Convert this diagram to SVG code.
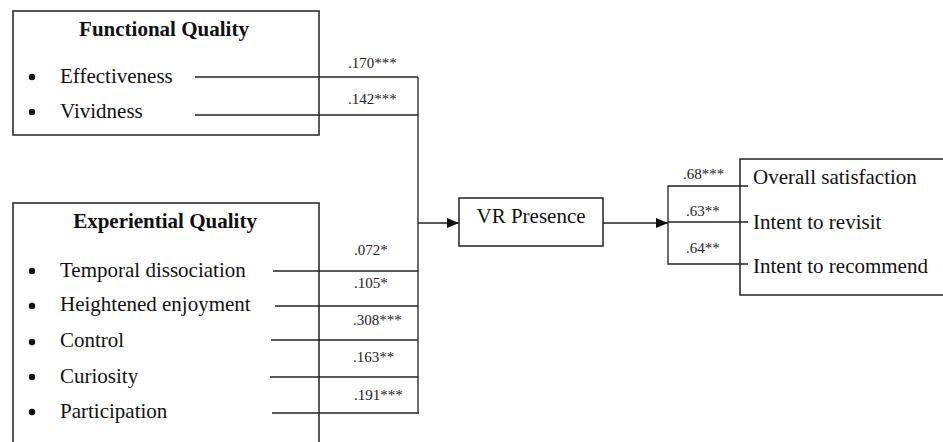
<svg xmlns="http://www.w3.org/2000/svg" width="943" height="442" viewBox="0 0 943 442">
<style>
.box{fill:#fff;stroke:#222;stroke-width:1.5}
.t{font-family:"Liberation Serif","Times New Roman",serif;font-size:21px;fill:#111}
.b{font-weight:bold;text-anchor:middle}
.l{font-family:"Liberation Serif","Times New Roman",serif;font-size:15px;fill:#222}
.c{fill:none;stroke:#222;stroke-width:1.3}
.dot{fill:#111}
</style>
<defs>
<marker id="ah" markerWidth="12" markerHeight="10" refX="12" refY="5" orient="auto" markerUnits="userSpaceOnUse">
<path d="M0,0 L12,5 L0,10 Z" fill="#111"/>
</marker>
</defs>
<rect width="943" height="442" fill="#fff"/>
<g id="functional-quality">
<rect class="box" x="13" y="11" width="306" height="124"/>
<text class="t b" x="164" y="36">Functional Quality</text>
<circle class="dot" cx="32" cy="77" r="3.2"/>
<text class="t" x="60" y="83">Effectiveness</text>
<circle class="dot" cx="32" cy="112" r="3.2"/>
<text class="t" x="60" y="118">Vividness</text>
</g>
<g id="experiential-quality">
<rect class="box" x="13" y="203" width="306" height="260"/>
<text class="t b" x="165" y="228">Experiential Quality</text>
<circle class="dot" cx="32" cy="271" r="3.2"/>
<text class="t" x="60" y="277">Temporal dissociation</text>
<circle class="dot" cx="32" cy="306" r="3.2"/>
<text class="t" x="60" y="311">Heightened enjoyment</text>
<circle class="dot" cx="32" cy="342" r="3.2"/>
<text class="t" x="60" y="347">Control</text>
<circle class="dot" cx="32" cy="377" r="3.2"/>
<text class="t" x="60" y="383">Curiosity</text>
<circle class="dot" cx="32" cy="412" r="3.2"/>
<text class="t" x="60" y="418">Participation</text>
</g>
<g id="vr-presence">
<rect class="box" x="459" y="198" width="144" height="48"/>
<text class="t" x="531" y="223" text-anchor="middle">VR Presence</text>
</g>
<g id="outcomes">
<rect class="box" x="740" y="159" width="220" height="136"/>
<text class="t" x="753" y="184">Overall satisfaction</text>
<text class="t" x="753" y="229">Intent to revisit</text>
<text class="t" x="753" y="273">Intent to recommend</text>
</g>
<g id="connectors">
<line class="c" x1="195" y1="77" x2="418" y2="77"/>
<line class="c" x1="195" y1="115" x2="418" y2="115"/>
<line class="c" x1="273" y1="271" x2="418" y2="271"/>
<line class="c" x1="275" y1="306" x2="418" y2="306"/>
<line class="c" x1="271" y1="340" x2="418" y2="340"/>
<line class="c" x1="270" y1="377" x2="418" y2="377"/>
<line class="c" x1="272" y1="413" x2="419" y2="413"/>
<line class="c" x1="418" y1="77" x2="418" y2="413"/>
<line class="c" x1="418" y1="223" x2="459" y2="223" marker-end="url(#ah)"/>
<line class="c" x1="603" y1="223" x2="668" y2="223" marker-end="url(#ah)"/>
<polyline class="c" points="748,186 668,186 668,264 748,264"/>
<line class="c" x1="668" y1="222" x2="748" y2="222"/>
<text class="l" x="348" y="68">.170***</text>
<text class="l" x="348" y="104">.142***</text>
<text class="l" x="354" y="255">.072*</text>
<text class="l" x="354" y="288">.105*</text>
<text class="l" x="353" y="325">.308***</text>
<text class="l" x="353" y="362">.163**</text>
<text class="l" x="354" y="400">.191***</text>
<text class="l" x="683" y="179">.68***</text>
<text class="l" x="686" y="216">.63**</text>
<text class="l" x="686" y="253">.64**</text>
</g>
</svg>
